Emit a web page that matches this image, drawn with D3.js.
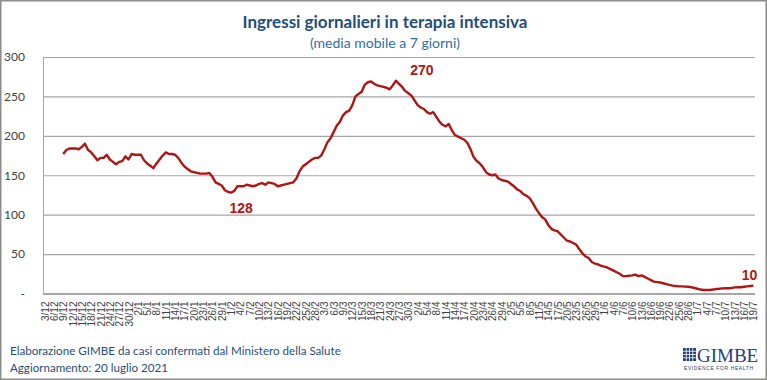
<!DOCTYPE html>
<html>
<head>
<meta charset="utf-8">
<title>Ingressi giornalieri in terapia intensiva</title>
<script src="https://d3js.org/d3.v7.min.js"></script>
<style>
  body { margin: 0; background: #fff; }
</style>
</head>
<body>
<script>
// category axis labels, one every 3 days (3/12/2020 -> 19/7/2021)
const tickLabels = [
  "3/12","6/12","9/12","12/12","15/12","18/12","21/12","24/12","27/12","30/12",
  "2/1","5/1","8/1","11/1","14/1","17/1","20/1","23/1","26/1","29/1",
  "1/2","4/2","7/2","10/2","13/2","16/2","19/2","22/2","25/2","28/2",
  "3/3","6/3","9/3","12/3","15/3","18/3","21/3","24/3","27/3","30/3",
  "2/4","5/4","8/4","11/4","14/4","17/4","20/4","23/4","26/4","29/4",
  "2/5","5/5","8/5","11/5","14/5","17/5","20/5","23/5","26/5","29/5",
  "1/6","4/6","7/6","10/6","13/6","16/6","19/6","22/6","25/6","28/6",
  "1/7","4/7","7/7","10/7","13/7","16/7","19/7"
];

// daily ICU admissions, 7-day moving average (one value per day from 3/12)
const ingressi = [
  null,null,null,null,null,null,177,182,184,184,
  184,183,186,190,182,179,174,169,172,172,
  176,170,167,164,167,168,174,170,177,176,
  176,176,169,165,162,159,165,170,175,179,
  177,177,176,172,166,161,158,155,154,153,
  152,152,152,153,148,141,139,137,131,129,
  128,130,136,136,136,138,137,136,137,139,
  140,138,141,140,139,136,137,138,139,140,
  141,146,155,161,164,167,170,172,172,175,
  183,192,197,205,213,218,226,230,232,239,
  250,253,256,265,268,269,266,264,263,262,
  261,259,264,270,266,262,257,254,251,245,
  239,236,234,230,228,230,224,218,214,212,
  215,207,201,199,197,195,191,183,173,168,
  165,160,154,151,150,151,146,144,143,142,
  139,136,132,130,126,124,121,115,108,102,
  97,94,87,82,80,79,75,71,67,66,
  64,62,56,51,47,45,40,38,37,35,
  34,33,31,29,27,25,22,22,22.5,23,
  24,22,23,21,19,17,15,14.5,14,13,
  12,11,10,9.5,9,9,8.7,8.5,8,7,
  6,5,4.5,4.5,4.5,5,5.7,6,6.5,6.6,
  6.6,7,7.8,8,8,8.5,9,9.5,10
];

// days that carry a value label
const labelledDays = [60, 113, 228];

const yTicks = [0, 50, 100, 150, 200, 250, 300];

const W = 767, H = 380;
const plot = {left: 43, right: 755, top: 57, bottom: 293.5};

const svg = d3.select("body").append("svg")
    .attr("width", W)
    .attr("height", H)
    .style("font-family", "'Liberation Sans', Arial, sans-serif");

// outer frame
svg.append("rect")
    .attr("x", 0.75).attr("y", 0.75)
    .attr("width", W - 1.5).attr("height", H - 1.5)
    .attr("fill", "#fff")
    .attr("stroke", "#8c8c8c")
    .attr("stroke-width", 1.5);

// titles
svg.append("text")
    .attr("x", 385).attr("y", 28)
    .attr("text-anchor", "middle")
    .style("font-family", "Lato, 'Open Sans', sans-serif")
    .style("font-weight", "bold")
    .style("font-size", "17px")
    .attr("fill", "#1f4e79")
    .text("Ingressi giornalieri in terapia intensiva");

svg.append("text")
    .attr("x", 385).attr("y", 48)
    .attr("text-anchor", "middle")
    .style("font-family", "Lato, 'Open Sans', sans-serif")
    .style("font-size", "14px")
    .attr("fill", "#2e6ea6")
    .text("(media mobile a 7 giorni)");

// scales
const days = d3.range(ingressi.length);
const x = d3.scalePoint()
    .domain(days)
    .range([plot.left, plot.right])
    .padding(0.5);

const y = d3.scaleLinear()
    .domain([0, 300])
    .range([plot.bottom, plot.top]);

// y axis + gridlines
const yAxis = svg.append("g")
    .attr("transform", `translate(${plot.left},0)`)
    .call(d3.axisLeft(y)
        .tickValues(yTicks)
        .tickSize(-(plot.right - plot.left))
        .tickPadding(18)
        .tickFormat(d => d === 0 ? "-" : d));
yAxis.select(".domain").attr("stroke", "#a6a6a6");
yAxis.selectAll(".tick line")
    .attr("stroke", "#a6a6a6")
    .attr("stroke-width", d => d === 0 ? 2.2 : 1.2);
yAxis.selectAll(".tick text")
    .attr("fill", "#404040")
    .style("font-size", "12px")
    .style("font-family", "Lato, 'Liberation Sans', sans-serif");

// x axis labels, every third day, rotated
const tickDays = days.filter(d => d % 3 === 0);
const xAxis = svg.append("g")
    .attr("transform", `translate(0,${plot.bottom})`)
    .call(d3.axisBottom(x)
        .tickValues(tickDays)
        .tickSize(0)
        .tickFormat((d, i) => tickLabels[i]));
xAxis.select(".domain").remove();
xAxis.selectAll(".tick text")
    .attr("fill", "#404040")
    .style("font-size", "10px")
    .attr("text-anchor", "end")
    .attr("transform", "rotate(-90)")
    .attr("x", -8)
    .attr("y", 0)
    .attr("dy", "0.35em");

// the line
const line = d3.line()
    .defined(d => d != null)
    .x((d, i) => x(i))
    .y(d => y(d));

svg.append("path")
    .datum(ingressi)
    .attr("fill", "none")
    .attr("stroke", "#b01515")
    .attr("stroke-width", 2.4)
    .attr("stroke-linejoin", "round")
    .attr("d", line);

// value labels
const labelOffset = {60: [10, 20], 113: [26, -6], 228: [-4, -6]};
svg.selectAll(".vlabel")
    .data(labelledDays)
    .join("text")
    .attr("class", "vlabel")
    .attr("x", d => x(d) + labelOffset[d][0])
    .attr("y", d => y(ingressi[d]) + labelOffset[d][1])
    .attr("text-anchor", "middle")
    .style("font-size", "14px")
    .style("font-weight", "bold")
    .attr("fill", "#b01515")
    .text(d => ingressi[d]);

// footer
const foot = svg.append("g")
    .style("font-family", "Lato, 'Open Sans', sans-serif")
    .style("font-size", "11.6px")
    .attr("fill", "#1f4e79");
foot.append("text").attr("x", 10).attr("y", 355)
    .text("Elaborazione GIMBE da casi confermati dal Ministero della Salute");
foot.append("text").attr("x", 10).attr("y", 372)
    .text("Aggiornamento: 20 luglio 2021");

// GIMBE logo
const logo = svg.append("g").attr("transform", "translate(683,346)");
logo.append("rect")
    .attr("x", 0).attr("y", 2).attr("width", 13).attr("height", 13)
    .attr("fill", "#1f3f73");
d3.range(1, 4).forEach(k => {
  logo.append("line").attr("x1", k * 3.25).attr("x2", k * 3.25)
      .attr("y1", 2).attr("y2", 15).attr("stroke", "#fff").attr("stroke-width", 0.8);
  logo.append("line").attr("y1", 2 + k * 3.25).attr("y2", 2 + k * 3.25)
      .attr("x1", 0).attr("x2", 13).attr("stroke", "#fff").attr("stroke-width", 0.8);
});
logo.append("text")
    .attr("x", 14).attr("y", 15.5)
    .style("font-family", "'Liberation Serif', 'DejaVu Serif', serif")
    .style("font-size", "19px")
    .attr("fill", "#1f3f73")
    .text("GIMBE");
logo.append("text")
    .attr("x", 1).attr("y", 24)
    .style("font-size", "5px")
    .style("letter-spacing", "0.6px")
    .attr("fill", "#1f3f73")
    .text("EVIDENCE FOR HEALTH");
</script>
</body>
</html>
